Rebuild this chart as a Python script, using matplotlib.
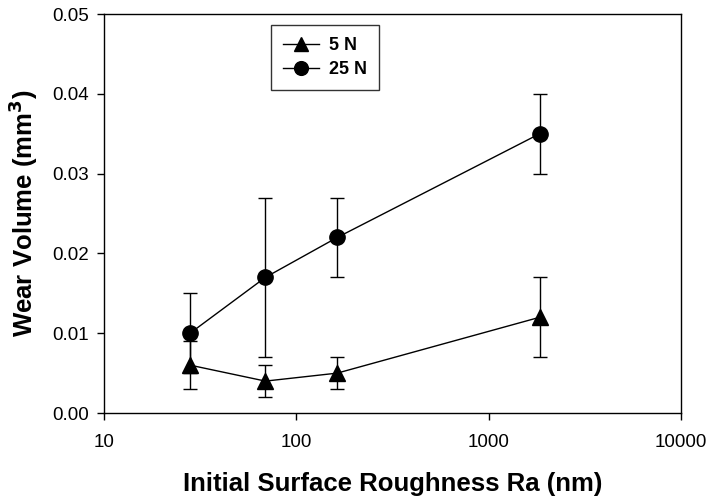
import numpy as np
import matplotlib
matplotlib.use("Agg")
import matplotlib.pyplot as plt

plt.rcParams['font.family'] = ['Liberation Sans', 'DejaVu Sans']

# roughness values (nm)
roughness = [28, 69, 163, 1840]

# 5 N series
wear_5n = [0.006, 0.004, 0.005, 0.012]
lo_5n = [0.003, 0.002, 0.003, 0.007]
hi_5n = [0.009, 0.006, 0.007, 0.017]

# 25 N series
wear_25n = [0.010, 0.017, 0.022, 0.035]
lo_25n = [0.005, 0.007, 0.017, 0.030]
hi_25n = [0.015, 0.027, 0.027, 0.040]

fig = plt.figure(figsize=(7.14, 5.01), dpi=100)
ax = fig.add_axes([0.1457, 0.1756, 0.8083, 0.7964])


def errs(vals, lo, hi):
    vals = np.array(vals)
    return [vals - np.array(lo), np.array(hi) - vals]


ax.errorbar(roughness, wear_5n, yerr=errs(wear_5n, lo_5n, hi_5n), fmt='-^',
            color='black', ms=11, lw=1, elinewidth=1, capsize=5, capthick=1,
            label='5 N')
ax.errorbar(roughness, wear_25n, yerr=errs(wear_25n, lo_25n, hi_25n), fmt='-o',
            color='black', ms=11, lw=1, elinewidth=1, capsize=5, capthick=1,
            label='25 N')

ax.set_xscale('log')
ax.set_xlim(10, 10000)
ax.set_ylim(0, 0.05)
ax.set_xticks([10, 100, 1000, 10000])
ax.set_xticklabels(['10', '100', '1000', '10000'])
ax.xaxis.set_minor_locator(matplotlib.ticker.NullLocator())
ax.set_yticks([0.0, 0.01, 0.02, 0.03, 0.04, 0.05])
ax.set_yticklabels(['0.00', '0.01', '0.02', '0.03', '0.04', '0.05'])
ax.tick_params(direction='out', length=5, width=1, labelsize=13.5)
ax.tick_params(axis='x', pad=10)
ax.tick_params(axis='y', pad=6)

for s in ax.spines.values():
    s.set_linewidth(1)

ax.set_xlabel('Initial Surface Roughness Ra (nm)', fontsize=18.5,
              fontweight='bold', labelpad=15)
ax.set_ylabel('Wear Volume (mm$^\\mathbf{3}$)', fontsize=18.5,
              fontweight='bold', labelpad=9)

handles, labels = ax.get_legend_handles_labels()
handles = [h[0] for h in handles]
leg = ax.legend(handles, labels, loc='upper left', bbox_to_anchor=(0.289, 0.972),
                borderaxespad=0, frameon=True, fancybox=False, edgecolor='black',
                prop={'weight': 'bold', 'size': 13}, handlelength=2.0,
                handletextpad=0.6, markerscale=0.9, borderpad=0.65,
                labelspacing=0.4)
leg.get_frame().set_linewidth(1)

fig.savefig('out.png', dpi=100)
